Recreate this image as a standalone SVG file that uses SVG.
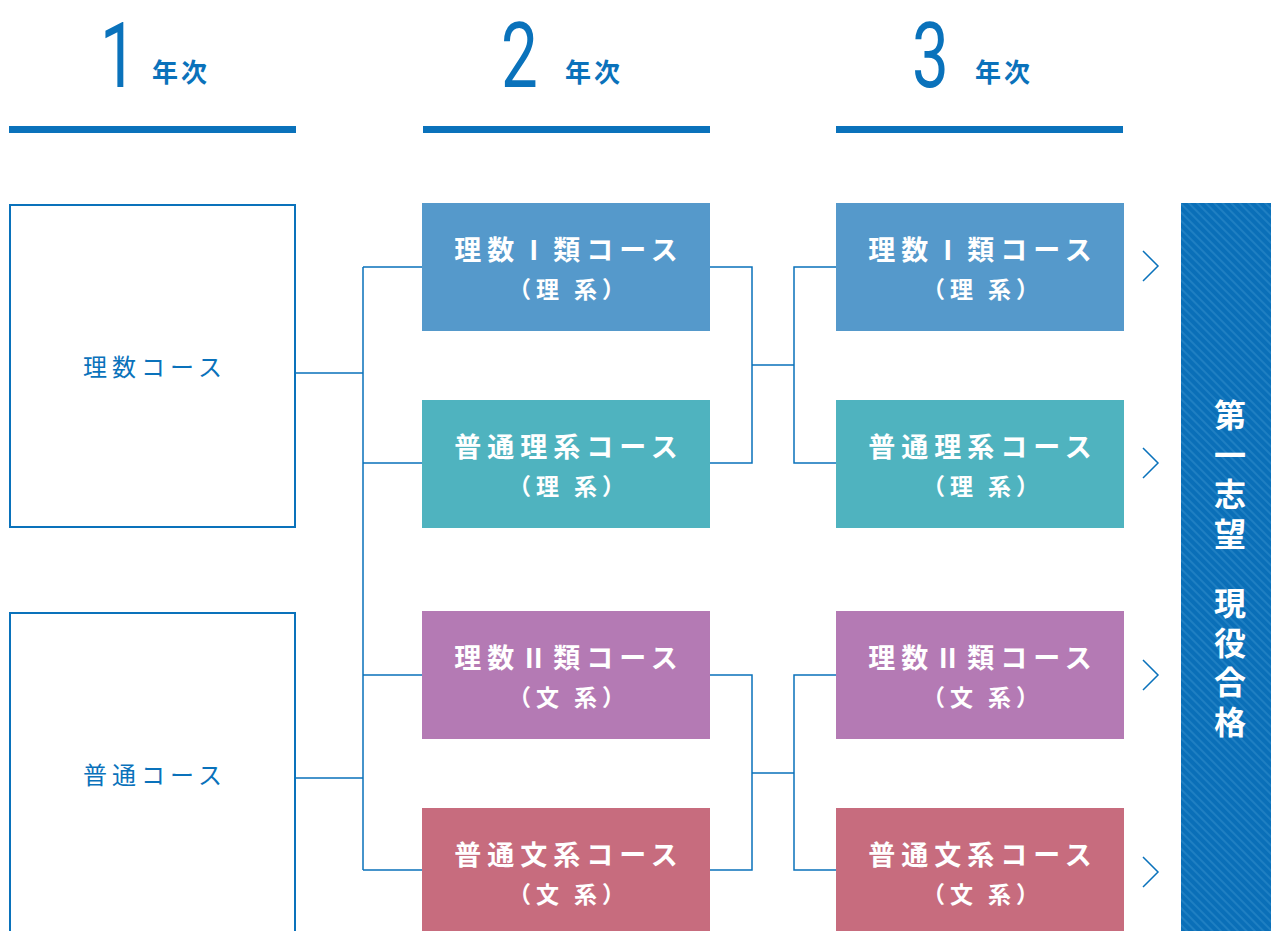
<svg xmlns="http://www.w3.org/2000/svg" width="1271" height="931" viewBox="0 0 1271 931">
<style>
.num{font-family:Roboto,"Liberation Sans",sans-serif;font-weight:400;font-size:91px;fill:#0a72bb}
.yr{font-family:"Noto Sans CJK JP",sans-serif;font-weight:700;font-size:26px;fill:#0a72bb;letter-spacing:3px}
.bar{fill:#0a72bb}
.lbox{fill:#fff;stroke:#0a72bb;stroke-width:2}
.ltxt{font-family:"Noto Sans CJK JP",sans-serif;font-weight:400;font-size:24px;fill:#0a72bb;letter-spacing:5px;text-anchor:middle}
.t1{font-family:"Noto Sans CJK JP",sans-serif;font-weight:700;font-size:27px;fill:#fff;letter-spacing:6px;text-anchor:middle}
.t2{font-family:"Noto Sans CJK JP",sans-serif;font-weight:700;font-size:23px;fill:#fff;letter-spacing:5px;text-anchor:middle}
.c-blue{fill:#5599cb}
.c-teal{fill:#4fb3bf}
.c-purple{fill:#b47ab4}
.c-red{fill:#c76c7e}
.conn{fill:none;stroke:#0a72bb;stroke-width:1.5}
.chev{fill:none;stroke:#0a72bb;stroke-width:1.5}
.vt{font-family:"Noto Sans CJK JP",sans-serif;font-weight:700;font-size:32px;fill:#fff;writing-mode:vertical-rl;letter-spacing:7.5px}
</style>
<defs>
<pattern id="stripes" width="6" height="6" patternUnits="userSpaceOnUse" patternTransform="rotate(-45)">
<rect width="6" height="6" fill="#0a6fb8"/>
<rect width="2" height="6" fill="#1f7fc2"/>
</pattern>
</defs>
<rect width="1271" height="931" fill="#fff"/>

<g id="header1">
<text class="num" transform="translate(100,87) scale(0.72,1)">1</text>
<text class="yr" x="152" y="82">年次</text>
<rect class="bar" x="9" y="126" width="287" height="7"/>
</g>
<g id="header2">
<text class="num" transform="translate(501,87) scale(0.72,1)">2</text>
<text class="yr" x="565" y="82">年次</text>
<rect class="bar" x="423" y="126" width="287" height="7"/>
</g>
<g id="header3">
<text class="num" transform="translate(912,87) scale(0.72,1)">3</text>
<text class="yr" x="975" y="82">年次</text>
<rect class="bar" x="836" y="126" width="287" height="7"/>
</g>

<g id="connectors">
<path class="conn" d="M295,373 H363 M295,778 H363 M363,267 V870 M363,267 H422 M363,463 H422 M363,675 H422 M363,870 H422"/>
<path class="conn" d="M710,267 H752 V463 H710 M752,365 H794 M836,267 H794 V463 H836"/>
<path class="conn" d="M710,675 H752 V870 H710 M752,773 H794 M836,675 H794 V870 H836"/>
</g>

<g id="rikei-course">
<rect class="lbox" x="10" y="205" width="285" height="322"/>
<text class="ltxt" x="155" y="376">理数コース</text>
</g>
<g id="futsu-course">
<rect class="lbox" x="10" y="613" width="285" height="330"/>
<text class="ltxt" x="155" y="784">普通コース</text>
</g>

<g id="y2-rikei1">
<rect class="c-blue" x="422" y="203" width="288" height="128"/>
<text class="t1" x="569" y="260">理数Ⅰ類コース</text>
<text class="t2" x="569" y="298">（理 系）</text>
</g>
<g id="y2-futsu-rikei">
<rect class="c-teal" x="422" y="400" width="288" height="128"/>
<text class="t1" x="569" y="457">普通理系コース</text>
<text class="t2" x="569" y="495">（理 系）</text>
</g>
<g id="y2-rikei2">
<rect class="c-purple" x="422" y="611" width="288" height="128"/>
<text class="t1" x="569" y="668">理数Ⅱ類コース</text>
<text class="t2" x="569" y="706">（文 系）</text>
</g>
<g id="y2-futsu-bunkei">
<rect class="c-red" x="422" y="808" width="288" height="128"/>
<text class="t1" x="569" y="865">普通文系コース</text>
<text class="t2" x="569" y="903">（文 系）</text>
</g>

<g id="y3-rikei1">
<rect class="c-blue" x="836" y="203" width="288" height="128"/>
<text class="t1" x="983" y="260">理数Ⅰ類コース</text>
<text class="t2" x="983" y="298">（理 系）</text>
</g>
<g id="y3-futsu-rikei">
<rect class="c-teal" x="836" y="400" width="288" height="128"/>
<text class="t1" x="983" y="457">普通理系コース</text>
<text class="t2" x="983" y="495">（理 系）</text>
</g>
<g id="y3-rikei2">
<rect class="c-purple" x="836" y="611" width="288" height="128"/>
<text class="t1" x="983" y="668">理数Ⅱ類コース</text>
<text class="t2" x="983" y="706">（文 系）</text>
</g>
<g id="y3-futsu-bunkei">
<rect class="c-red" x="836" y="808" width="288" height="128"/>
<text class="t1" x="983" y="865">普通文系コース</text>
<text class="t2" x="983" y="903">（文 系）</text>
</g>

<g id="chevrons">
<polyline class="chev" points="1143,251 1158,266 1143,281"/>
<polyline class="chev" points="1143,448 1158,463 1143,478"/>
<polyline class="chev" points="1143,660 1158,675 1143,690"/>
<polyline class="chev" points="1143,857 1158,872 1143,887"/>
</g>

<g id="goal">
<rect x="1181" y="203" width="90" height="728" fill="url(#stripes)"/>
<text class="vt" x="1230" y="399">第一志望</text>
<text class="vt" x="1230" y="587">現役合格</text>
</g>
</svg>
